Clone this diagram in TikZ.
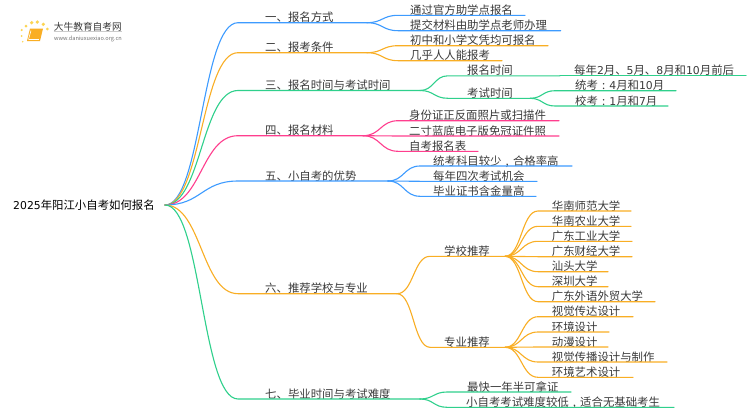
\documentclass[tikz,border=0pt]{standalone}
\usepackage{fontspec}
\setmainfont{Noto Sans CJK SC}
\newfontfamily\dgfont[Scale=0.95]{DejaVu Sans}
\newcommand\dg[1]{{\dgfont #1}}
\newcommand\midp[1]{\makebox[1em][c]{#1}}
\usetikzlibrary{calc}
\definecolor{cblue}{HTML}{3D9BFF}
\definecolor{corange}{HTML}{F9AE24}
\definecolor{cgreen}{HTML}{2FD08C}
\definecolor{cpink}{HTML}{FF3E8E}
\definecolor{ctext}{HTML}{3A3A3A}
\tikzset{
  lab/.style={anchor=base west,inner sep=0pt,text=ctext,font=\fontsize{11.4}{12}\selectfont,yshift=1pt},
  link/.style={line width=1.1pt,line cap=round},
}
% name, from, x elbow, x text, x end, y, colour, text
\newcommand\twig[8]{%
  \coordinate (#1s) at (#3,#6);
  \coordinate (#1e) at (#5,#6);
  \node[lab] (#1) at (#4,#6) {#8};
  \draw[link,#7] let \p1=(#2),\p2=(#1s) in
    (\p1) .. controls ({(\x1+\x2)/2},\y1) and ({(\x1+\x2)/2},\y2) .. (\p2) -- (#1e);
}
\begin{document}
\begin{tikzpicture}[x=1pt,y=-1pt]
\useasboundingbox (0,0) rectangle (750,410);
\fill[white] (0,0) rectangle (750,410);
% logo
\foreach \a/\b/\r in {21.7/30/1.2,26/26/1.5,31.7/22.7/1.8,37.3/22/1.8,43.3/24.3/1.8,47.3/29/1.5,21.7/36/1,22.7/41.7/.8}
  \fill[corange!70!yellow,opacity=.75] (\a,\b) circle (\r);
\fill[corange] (30,28.5) -- (43,28.5) -- (40,41) -- (27,41) -- cycle;
\draw[white,line width=.6pt] (31,30.5) -- (28.5,39.5);
\draw[white,line width=.5pt] (29,39.5) -- (39,39.5);
\node[anchor=base west,inner sep=0pt,text=ctext,font=\fontsize{9.7}{10}\selectfont] (logotitle) at (53.7,30.5) {大牛教育自考网};
\node[anchor=base west,inner sep=0pt,text=black!55,font=\fontsize{5.6}{6}\selectfont] (logourl) at (54,40.5) {www.daniuxuexiao.org.cn};
\draw[black!20,line width=.4pt] (logotitle.south west) -- (logotitle.south east);
% root
\node[anchor=east,inner sep=0pt,inner xsep=10pt,text=black,font=\fontsize{11.4}{12}\selectfont] (root) at (165,205) {\dg{2025}年阳江小自考如何报名};
\coordinate (r) at (root.east);
% branch 1
\twig{a}{r}{238}{265}{367}{22.7}{cblue}{一、报名方式}
\twig{a1}{ae}{398}{410}{525}{15.3}{cblue}{通过官方助学点报名}
\twig{a2}{ae}{398}{410}{560.7}{30.7}{cblue}{提交材料由助学点老师办理}
% branch 2
\twig{b}{r}{238}{265}{367}{52.7}{corange}{二、报考条件}
\twig{b1}{be}{398}{410}{548}{45.7}{corange}{初中和小学文凭均可报名}
\twig{b2}{be}{398}{410}{502}{60.7}{corange}{几乎人人能报考}
% branch 3
\twig{c}{r}{238}{265}{420}{90.5}{cgreen}{三、报名时间与考试时间}
\twig{c1}{ce}{448}{467}{560}{75.8}{cgreen}{报名时间}
\twig{c11}{c1e}{565}{574}{746}{75.8}{cgreen}{每年\dg{2}月、\dg{5}月、\dg{8}月和\dg{10}月前后}
\twig{c2}{ce}{448}{467}{530}{98.3}{cgreen}{考试时间}
\twig{c21}{c2e}{555}{575}{676}{90.7}{cgreen}{统考\midp{:}\dg{4}月和\dg{10}月}
\twig{c22}{c2e}{555}{575}{668}{106}{cgreen}{校考\midp{:}\dg{1}月和\dg{7}月}
% branch 4
\twig{d}{r}{238}{265}{363}{135.7}{cpink}{四、报名材料}
\twig{d1}{de}{398}{409}{559}{120.7}{cpink}{身份证正反面照片或扫描件}
\twig{d2}{de}{398}{409}{559}{136}{cpink}{二寸蓝底电子版免冠证件照}
\twig{d3}{de}{398}{409}{478}{151.3}{cpink}{自考报名表}
% branch 5
\twig{e}{r}{238}{265}{388}{181}{cblue}{五、小自考的优势}
\twig{e1}{ee}{420}{433}{572}{166}{cblue}{统考科目较少\midp{,}合格率高}
\twig{e2}{ee}{420}{433}{537}{181.3}{cblue}{每年四次考试机会}
\twig{e3}{ee}{420}{433}{536}{196.3}{cblue}{毕业证书含金量高}
% branch 6
\twig{f}{r}{238}{265}{397}{293.7}{corange}{六、推荐学校与专业}
\twig{g}{fe}{430}{444}{505}{256.3}{corange}{学校推荐}
\twig{g1}{ge}{538}{551.7}{631}{211}{corange}{华南师范大学}
\twig{g2}{ge}{538}{551.7}{631}{226.3}{corange}{华南农业大学}
\twig{g3}{ge}{538}{551.7}{632}{241.3}{corange}{广东工业大学}
\twig{g4}{ge}{538}{551.7}{632}{256.7}{corange}{广东财经大学}
\twig{g5}{ge}{538}{551.7}{608}{271.7}{corange}{汕头大学}
\twig{g6}{ge}{538}{551.7}{608}{286.7}{corange}{深圳大学}
\twig{g7}{ge}{538}{551.7}{655}{301.7}{corange}{广东外语外贸大学}
\twig{h}{fe}{430}{444}{505}{347.3}{corange}{专业推荐}
\twig{h1}{he}{538}{551.7}{633}{316.7}{corange}{视觉传达设计}
\twig{h2}{he}{538}{551.7}{609}{332}{corange}{环境设计}
\twig{h3}{he}{538}{551.7}{608}{347}{corange}{动漫设计}
\twig{h4}{he}{538}{551.7}{667}{362}{corange}{视觉传播设计与制作}
\twig{h5}{he}{538}{551.7}{633}{377.3}{corange}{环境艺术设计}
% branch 7
\twig{k}{r}{238}{265}{420}{399}{cgreen}{七、毕业时间与考试难度}
\twig{k1}{ke}{447}{467}{571}{392}{cgreen}{最快一年半可拿证}
\twig{k2}{ke}{447}{466}{674}{407.3}{cgreen}{小自考考试难度较低\midp{,}适合无基础考生}
\end{tikzpicture}
\end{document}
